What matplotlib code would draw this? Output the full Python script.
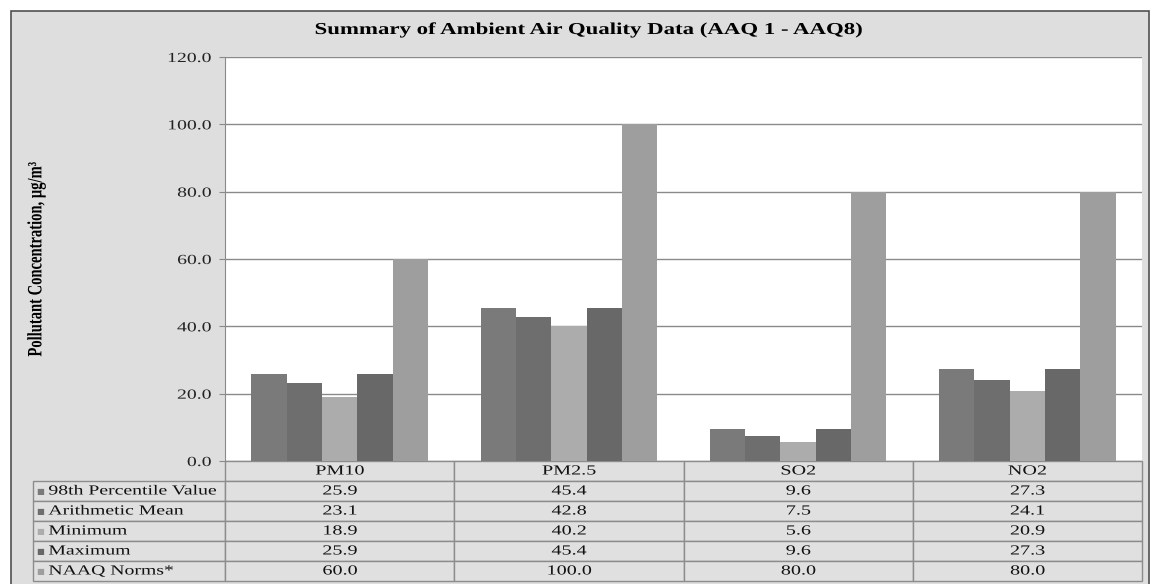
import matplotlib
matplotlib.use("Agg")
import matplotlib.pyplot as plt
from matplotlib.patches import Rectangle
from matplotlib.patheffects import AbstractPathEffect
from matplotlib.transforms import Affine2D
import numpy as np

categories = ["PM10", "PM2.5", "SO2", "NO2"]
series_names = ["98th Percentile Value", "Arithmetic Mean", "Minimum", "Maximum", "NAAQ Norms*"]
p98 = [25.9, 45.4, 9.6, 27.3]
mean = [23.1, 42.8, 7.5, 24.1]
minimum = [18.9, 40.2, 5.6, 20.9]
maximum = [25.9, 45.4, 9.6, 27.3]
naaq = [60.0, 100.0, 80.0, 80.0]
series_values = [p98, mean, minimum, maximum, naaq]
colors = ["#7a7a7a", "#6e6e6e", "#acacac", "#686868", "#9e9e9e"]
yticks = [0, 20, 40, 60, 80, 100, 120]

plt.rcParams["font.family"] = ["Liberation Serif", "DejaVu Serif"]


class HStretch(AbstractPathEffect):
    """Stretch text horizontally (the reference text is widened)."""

    def __init__(self, sx, anchor="center"):
        super().__init__()
        self.sx = sx
        self.anchor = anchor

    def draw_path(self, renderer, gc, tpath, affine, rgbFace=None):
        verts = affine.transform(tpath.vertices)
        if len(verts) == 0:
            return
        x0, x1 = verts[:, 0].min(), verts[:, 0].max()
        a = {"left": x0, "center": 0.5 * (x0 + x1), "right": x1}[self.anchor]
        aff = affine + Affine2D().translate(-a, 0).scale(self.sx, 1).translate(a, 0)
        renderer.draw_path(gc, tpath, aff, rgbFace)


W, H = 1152, 584
fig = plt.figure(figsize=(W / 100, H / 100), dpi=100, facecolor="white")

# chart area background
bg = Rectangle((11 / W, -0.01), (1149 - 11) / W, 1 - 11 / H + 0.01,
               transform=fig.transFigure, facecolor="#dedede",
               edgecolor="#505050", linewidth=1.2, zorder=-10)
fig.patches.append(bg)

ax = fig.add_axes([225 / W, (H - 461) / H, 917 / W, 404 / H])
ax.set_facecolor("white")

n = len(series_values)
bw = 1.0 / (n + 1.5)
x = np.arange(len(categories))
for k, (vals, c) in enumerate(zip(series_values, colors)):
    offs = (k - (n - 1) / 2) * bw
    ax.bar(x + offs, vals, width=bw, color=c, edgecolor="none", zorder=3,
           label=series_names[k])

ax.set_xlim(-0.5, len(categories) - 0.5)
ax.set_ylim(0, 120)
ax.set_yticks(yticks)
ax.set_yticklabels([f"{v:.1f}" for v in yticks], fontsize=10, color="#222222")
for t in ax.get_yticklabels():
    t.set_path_effects([HStretch(1.42, "right")])
ax.set_xticks([])
ax.yaxis.grid(True, color="#8a8a8a", linewidth=1.0, zorder=0)
ax.set_axisbelow(True)
for s in ["top", "right", "bottom"]:
    ax.spines[s].set_visible(False)
ax.spines["left"].set_color("#8a8a8a")
ax.tick_params(axis="y", length=4, color="#8a8a8a", pad=6)

# data table (first column holds the series names)
cell_text = [[name] + [f"{v:.1f}" for v in vals]
             for name, vals in zip(series_names, series_values)]
label_w = 192 / 229 * 0.25
tbl = ax.table(cellText=cell_text, colLabels=[""] + categories,
               colWidths=[label_w] + [0.25] * 4,
               cellLoc="center", colLoc="center",
               bbox=[(33 - 225) / 917, -120 / 404, (1142 - 33) / 917, 120 / 404])
tbl.auto_set_font_size(False)
tbl.set_fontsize(10)
for (r, c), cell in tbl.get_celld().items():
    cell.set_facecolor("#e0e0e0")
    cell.set_edgecolor("#8c8c8c")
    cell.set_linewidth(1.0)
    txt = cell.get_text()
    txt.set_color("#111111")
    if c == 0:
        cell.PAD = 0.08
        txt.set_horizontalalignment("left")
        cell._loc = "left"
        txt.set_path_effects([HStretch(1.42, "left")])
        if r == 0:
            cell.set_visible(False)
    else:
        txt.set_path_effects([HStretch(1.45, "center")])

# legend keys inside row labels
for k, c in enumerate(colors):
    yc = (-20 - 20 * k - 10) / 404
    ax.text((40 - 225) / 917, yc - 0.002, "\u25A0", transform=ax.transAxes,
            ha="center", va="center", fontsize=6, color=c,
            family=["DejaVu Sans"])

ax.set_ylabel("Pollutant Concentration, \u00b5g/m\u00b3", fontsize=10.5,
              fontweight="bold", labelpad=0)
ax.yaxis.set_label_coords((43 - 225) / 917, 0.5)
ax.yaxis.label.set_path_effects([HStretch(1.4, "center")])

title = fig.text(588 / W, 1 - 30 / H, "Summary of Ambient Air Quality Data (AAQ 1 - AAQ8)",
                 ha="center", va="center", fontsize=12, fontweight="bold")
title.set_path_effects([HStretch(1.37, "center")])

fig.savefig("out.png", dpi=100, facecolor="white")
